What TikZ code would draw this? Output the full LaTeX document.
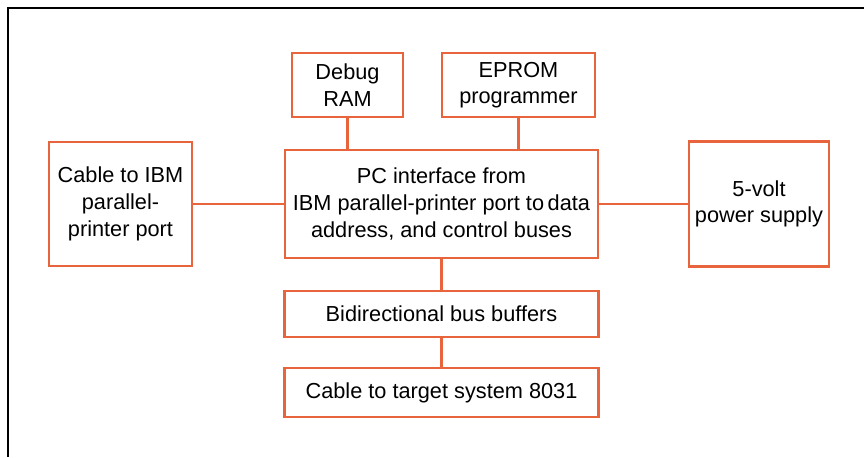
\documentclass[tikz,border=0pt]{standalone}
\usepackage{fontspec}
\setmainfont{Liberation Sans}
\definecolor{boxred}{HTML}{E8643C}

\begin{document}
\begin{tikzpicture}[x=0.75pt, y=-0.75pt,
    blk/.style={draw=boxred, line width=2pt, align=center, inner sep=0pt,
        font=\fontsize{16.3}{20}\selectfont},
    wire/.style={draw=boxred, line width=2pt}]
    \useasboundingbox (0,0) rectangle (864,457);
    % frame corner
    \draw[line width=1.6pt] (8,457) -- (8,8) -- (864,8);
    \node[blk, minimum width=83.25pt, minimum height=48pt] (debug) at (347.5,85) {Debug\\RAM};
    \node[blk, minimum width=114.75pt, minimum height=48pt] (eprom) at (518.5,85) {EPROM\\programmer};
    \node[blk, minimum width=234.75pt, minimum height=81pt] (pc) at (441.5,204)
        {PC interface from\\IBM parallel-printer port to\,data\\address, and control buses};
    \node[blk, minimum width=107.25pt, minimum height=93pt] (cable) at (120.5,204)
        {Cable to IBM\\parallel-\\printer port};
    \node[blk, minimum width=105pt, minimum height=93.75pt] (power) at (759,204)
        {5-volt\\power supply};
    \node[blk, minimum width=235.5pt, minimum height=34.5pt] (buf) at (441.5,314) {Bidirectional bus buffers};
    \node[blk, minimum width=235.5pt, minimum height=36.75pt] (target) at (441.5,392.5) {Cable to target system 8031};
    \draw[wire] (debug) -- (pc.north -| debug);
    \draw[wire] (eprom) -- (pc.north -| eprom);
    \draw[wire] (cable) -- (pc);
    \draw[wire] (pc) -- (power);
    \draw[wire] (pc) -- (buf);
    \draw[wire] (buf) -- (target);
\end{tikzpicture}
\end{document}
